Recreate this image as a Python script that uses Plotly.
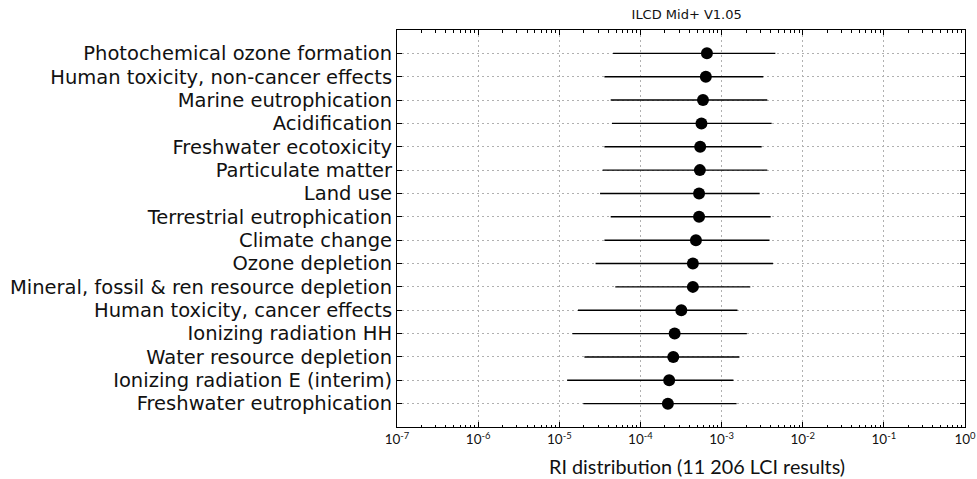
import plotly.graph_objects as go

categories = [
    "Photochemical ozone formation",
    "Human toxicity, non-cancer effects",
    "Marine eutrophication",
    "Acidification",
    "Freshwater ecotoxicity",
    "Particulate matter",
    "Land use",
    "Terrestrial eutrophication",
    "Climate change",
    "Ozone depletion",
    "Mineral, fossil & ren resource depletion",
    "Human toxicity, cancer effects",
    "Ionizing radiation HH",
    "Water resource depletion",
    "Ionizing radiation E (interim)",
    "Freshwater eutrophication",
]
low = [4.6e-5, 3.6e-5, 4.3e-5, 4.45e-5, 3.6e-5, 3.42e-5, 3.18e-5, 4.3e-5,
       3.6e-5, 2.8e-5, 4.9e-5, 1.7e-5, 1.45e-5, 2.04e-5, 1.25e-5, 1.98e-5]
median = [6.6e-4, 6.4e-4, 5.9e-4, 5.65e-4, 5.45e-4, 5.4e-4, 5.28e-4, 5.28e-4,
          4.83e-4, 4.43e-4, 4.43e-4, 3.19e-4, 2.64e-4, 2.54e-4, 2.26e-4, 2.18e-4]
high = [4.6e-3, 3.27e-3, 3.66e-3, 4.14e-3, 3.12e-3, 3.66e-3, 2.95e-3, 4.03e-3,
        3.9e-3, 4.3e-3, 2.26e-3, 1.57e-3, 2.05e-3, 1.66e-3, 1.4e-3, 1.53e-3]
x_tick_vals = [1e-7, 1e-6, 1e-5, 1e-4, 1e-3, 1e-2, 1e-1, 1e0]
x_tick_text = ["10<sup>-7</sup>", "10<sup>-6</sup>", "10<sup>-5</sup>", "10<sup>-4</sup>",
               "10<sup>-3</sup>", "10<sup>-2</sup>", "10<sup>-1</sup>", "10<sup>0</sup>"]
title = "ILCD Mid+ V1.05"
xlabel = "RI distribution (11 206 LCI results)"

lx, ly = [], []
for c, a, b in zip(categories, low, high):
    lx += [a, b, None]
    ly += [c, c, None]

fig = go.Figure()
fig.add_trace(go.Scatter(x=lx, y=ly, mode="lines",
                         line=dict(color="black", width=1.4),
                         showlegend=False, hoverinfo="skip"))
fig.add_trace(go.Scatter(x=median, y=categories, mode="markers",
                         marker=dict(color="black", size=12),
                         showlegend=False))

fig.update_layout(
    width=977, height=479,
    margin=dict(l=397, r=12, t=30, b=52),
    paper_bgcolor="white", plot_bgcolor="white",
    font=dict(family="DejaVu Sans", color="black"),
    title=dict(text=title, x=0.51, xanchor="center", xref="paper",
               y=1 - 14 / 479, yref="container", yanchor="middle",
               font=dict(size=13, family="DejaVu Sans", color="#111111")),
    annotations=[dict(text=xlabel, xref="paper", yref="paper",
                      x=0.529, y=-0.098, xanchor="center", yanchor="middle",
                      showarrow=False,
                      font=dict(size=19.8, family="Lato", color="#111111"))],
)
fig.update_xaxes(
    type="log", range=[-7, 0], tickmode="array",
    tickvals=x_tick_vals, ticktext=x_tick_text,
    showgrid=True, gridcolor="#b0b0b0", griddash="2px,3px", gridwidth=1,
    showline=True, linecolor="black", linewidth=1, mirror="allticks",
    ticks="inside", ticklen=5, tickcolor="black",
    minor=dict(ticks="inside", ticklen=2.5, tickcolor="black", showgrid=False,
               tickmode="array",
               tickvals=[m * v for v in x_tick_vals[:-1] for m in range(2, 10)]),
    tickfont=dict(size=13.5, family="Lato", color="#111111"),
    zeroline=False, automargin=False,
)
fig.update_yaxes(
    type="category", categoryorder="array", categoryarray=categories,
    range=[16, -1],
    showgrid=True, gridcolor="#b0b0b0", griddash="2px,3px", gridwidth=1,
    showline=True, linecolor="black", linewidth=1, mirror="allticks",
    ticks="inside", ticklen=5, tickcolor="black",
    tickfont=dict(size=19.5, family="DejaVu Sans", color="#111111"),
    zeroline=False, automargin=False,
)
fig.write_html("out.html", config={"displayModeBar": False},
               post_script="document.body.style.margin='0';document.body.style.overflow='hidden';")
